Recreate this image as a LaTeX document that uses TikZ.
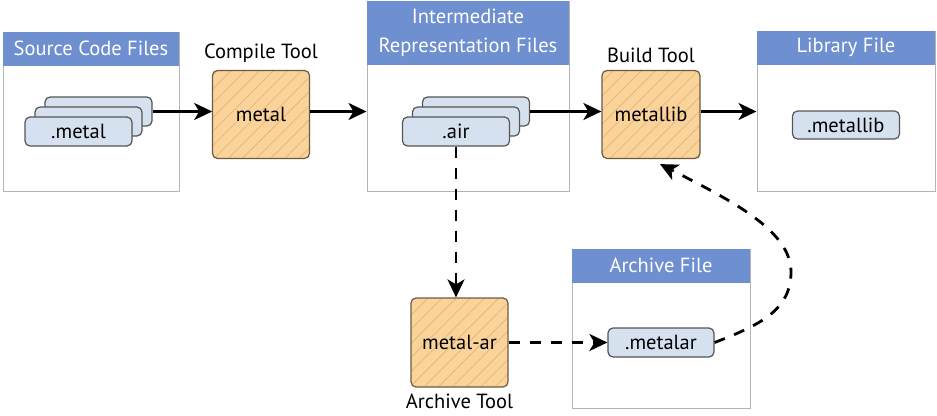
\documentclass[tikz,border=0pt]{standalone}
\usepackage{fontspec}
\setmainfont{PT Sans}
\usepackage{tikz}
\usetikzlibrary{calc}
\usetikzlibrary{arrows.meta}
\usetikzlibrary{patterns.meta}
\usetikzlibrary{positioning}

\definecolor{headblue}{HTML}{6E8FD0}
\definecolor{panelgray}{HTML}{B4B4B4}
\definecolor{cardblue}{HTML}{D6E1EF}
\definecolor{cardedge}{HTML}{555555}
\definecolor{toolorange}{HTML}{FAD39B}
\definecolor{hatch}{HTML}{E3B06E}
\definecolor{tooledge}{HTML}{6B5B45}

\begin{document}
\begin{tikzpicture} [x=1pt, y=-1pt,
  panel/.style={draw=panelgray, line width=1pt, fill=white, inner sep=0pt},
  header/.style={fill=headblue, text=white, anchor=north, inner sep=0pt, minimum height=34pt, font=\fontsize{20.5}{24}\selectfont},
  card/.style={draw=cardedge, line width=1.2pt, fill=cardblue, rounded corners=5pt, minimum width=107pt, minimum height=29pt, inner sep=0pt, font=\fontsize{20.5}{24}\selectfont},
  tool/.style={draw=tooledge, line width=1.2pt, rounded corners=5pt, minimum width=97pt, minimum height=88pt, inner sep=0pt, preaction={fill=toolorange}, pattern={Lines[angle=45,distance=10pt,line width=0.6pt]}, pattern color=hatch, font=\fontsize{20.5}{24}\selectfont},
  tooltitle/.style={font=\fontsize{20.5}{24}\selectfont},
  flow/.style={-{Stealth[length=18pt,width=17pt,inset=5pt]}, line width=2.6pt},
  dashflow/.style={flow, line width=2.8pt, dash pattern=on 11pt off 10pt}]
\useasboundingbox (0,0) rectangle (937,415);

% panels
\node[panel, minimum width=176pt, minimum height=159pt] (src) at (91,111.5) {};
\node[header, minimum width=176pt] (srchead) at (src.north) {Source Code Files};
\node[panel, minimum width=202pt, minimum height=190pt] (ir) at (468,96) {};
\node[header, minimum width=202pt, minimum height=64pt, align=center, font=\fontsize{20.5}{29}\selectfont] (irhead) at (ir.north) {Intermediate\\Representation Files};
\node[panel, minimum width=178pt, minimum height=160pt] (lib) at (846,111) {};
\node[header, minimum width=178pt] (libhead) at (lib.north) {Library File};
\node[panel, minimum width=178pt, minimum height=159pt] (arch) at (661,328.5) {};
\node[header, minimum width=178pt] (archhead) at (arch.north) {Archive File};

% files
\foreach \s/\n in {20/back, 10/mid} \node[card] (metal\n) at ($(78.5,131.5)+(\s,-\s)$) {};
\node[card] (metalfront) at (78.5,131.5) {.metal};
\foreach \s/\n in {20/back, 10/mid} \node[card] (air\n) at ($(456,131.5)+(\s,-\s)$) {};
\node[card] (airfront) at (456,131.5) {.air};
\node[card, minimum height=28pt] (metallibfile) at (846,125) {.metallib};
\node[card, minimum width=106pt] (metalarfile) at (661,342.5) {.metalar};

% tools
\node[tool] (metal) at (261,114.5) {metal};
\node[tool, minimum width=98pt] (metallib) at (651,114.5) {metallib};
\node[tool, minimum height=89pt] (metalar) at (459.5,342.5) {metal-ar};
\node[tooltitle, above=4pt of metal] (compiletitle) {Compile Tool};
\node[tooltitle, above=4pt of metallib] (buildtitle) {Build Tool};
\node[tooltitle, below=3pt of metalar] (archivetitle) {Archive Tool};

% flow
\draw[flow] (metalback.east) -- (metal.west |- metalback.east);
\draw[flow] (metal.east |- metalback.east) -- (ir.west |- metalback.east);
\draw[flow] (airback.east) -- (metallib.west |- airback.east);
\draw[flow] (metallib.east |- airback.east) -- (lib.west |- airback.east);
\draw[dashflow] (airfront.south) -- (airfront.south |- metalar.north);
\draw[dashflow] (metalar.east) -- (metalarfile.west);
\draw[dashflow] (metalarfile.east) .. controls (760,325) and (791,310) .. (791,272) .. controls (791,230) and (730,200) .. ([xshift=9pt,yshift=-5pt]metallib.south);

\end{tikzpicture}
\end{document}
